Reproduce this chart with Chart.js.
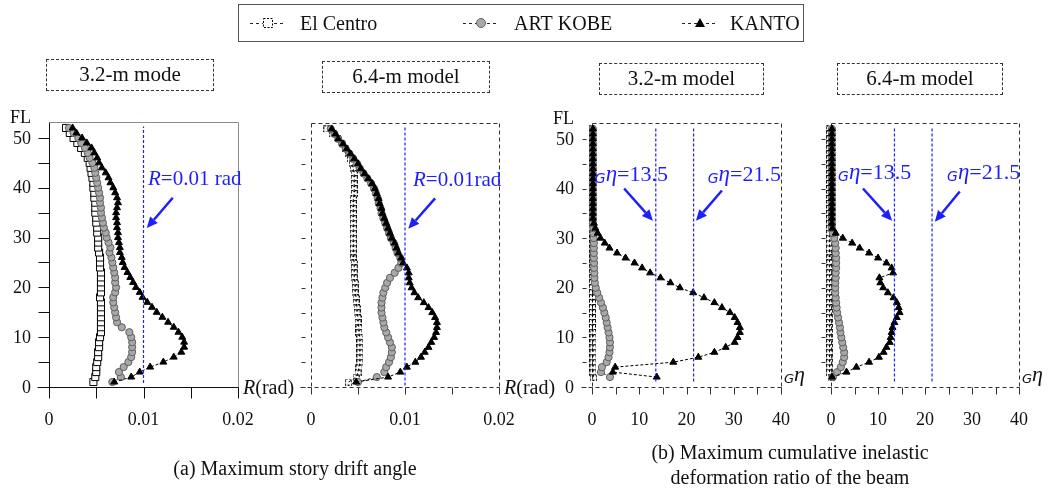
<!DOCTYPE html>
<html>
<head>
<meta charset="utf-8">
<script src="https://cdn.jsdelivr.net/npm/chart.js@4.4.0/dist/chart.umd.min.js"></script>
<style>
  body { margin: 0; background: #fff; }
  #page { position: relative; width: 1050px; height: 491px; overflow: hidden; font-family: "Liberation Serif", "Times New Roman", serif; color: #111; }
  canvas { position: absolute; left: 0; top: 0; }
  .box { position: absolute; border: 1px dashed #333; text-align: center; font-size: 21px; line-height: 29px; }
  .cap { position: absolute; text-align: center; font-size: 20px; line-height: 25px; }
</style>
</head>
<body>
<div id="page">
  <canvas id="p1" width="1050" height="491"></canvas>
  <canvas id="p2" width="1050" height="491"></canvas>
  <canvas id="p3" width="1050" height="491"></canvas>
  <canvas id="p4" width="1050" height="491"></canvas>
  <div class="box" style="left:46px;top:59px;width:166px;height:30px;" id="t1"></div>
  <div class="box" style="left:322px;top:61px;width:166px;height:30px;" id="t2"></div>
  <div class="box" style="left:599px;top:63px;width:163px;height:30px;" id="t3"></div>
  <div class="box" style="left:837px;top:63px;width:164px;height:30px;" id="t4"></div>
  <div class="cap" style="left:115px;top:456px;width:360px;">(a) Maximum story drift angle</div>
  <div class="cap" style="left:600px;top:440px;width:380px;">(b) Maximum cumulative inelastic<br>deformation ratio of the beam</div>
</div>
<script>
// ---- data ----
const seriesNames = ["El Centro", "ART KOBE", "KANTO"];
const panelTitles = ["3.2-m mode", "6.4-m model", "3.2-m model", "6.4-m model"];

const storyFloors = [1, 2, 3, 4, 5, 6, 7, 8, 9, 10, 11, 12, 13, 14, 15, 16, 17, 18, 19, 20, 21, 22, 23, 24, 25, 26,
  27, 28, 29, 30, 31, 32, 33, 34, 35, 36, 37, 38, 39, 40, 41, 42, 43, 44, 45, 46, 47, 48, 49, 50, 51, 52];
const beamFloors = [2, 3, 4, 5, 6, 7, 8, 9, 10, 11, 12, 13, 14, 15, 16, 17, 18, 19, 20, 21, 22, 23, 24, 25, 26,
  27, 28, 29, 30, 31, 32, 33, 34, 35, 36, 37, 38, 39, 40, 41, 42, 43, 44, 45, 46, 47, 48, 49, 50, 51, 52];

// (a) story drift angle R (rad), 3.2-m model
const drift32ElCentro = [0.0047, 0.0049, 0.0050, 0.0050, 0.0051, 0.0052, 0.0052, 0.0053, 0.0053, 0.0054, 0.0055, 0.0055, 0.0055,
  0.0055, 0.0055, 0.0055, 0.0055, 0.0054, 0.0055, 0.0055, 0.0055, 0.0055, 0.0055, 0.0054, 0.0054, 0.0054, 0.0053, 0.0052,
  0.0052, 0.0052, 0.0051, 0.0051, 0.0050, 0.0050, 0.0049, 0.0049, 0.0049, 0.0048, 0.0048, 0.0047, 0.0047, 0.0046, 0.0045,
  0.0044, 0.0043, 0.0041, 0.0038, 0.0034, 0.0030, 0.0026, 0.0022, 0.0018];
const drift32ArtKobe = [0.0067, 0.0076, 0.0074, 0.0079, 0.0084, 0.0087, 0.0088, 0.0088, 0.0088, 0.0087, 0.0085, 0.0077, 0.0072,
  0.0071, 0.0070, 0.0069, 0.0068, 0.0068, 0.0070, 0.0071, 0.0070, 0.0070, 0.0069, 0.0068, 0.0067, 0.0066, 0.0064, 0.0065,
  0.0063, 0.0061, 0.0060, 0.0058, 0.0057, 0.0056, 0.0055, 0.0055, 0.0054, 0.0054, 0.0053, 0.0052, 0.0051, 0.0050, 0.0049,
  0.0048, 0.0046, 0.0043, 0.0041, 0.0038, 0.0034, 0.0031, 0.0026, 0.0021];
const drift32Kanto = [0.0069, 0.0087, 0.0096, 0.0107, 0.0121, 0.0132, 0.0140, 0.0143, 0.0143, 0.0141, 0.0137, 0.0132, 0.0126,
  0.0120, 0.0114, 0.0109, 0.0104, 0.0099, 0.0096, 0.0092, 0.0089, 0.0086, 0.0083, 0.0080, 0.0078, 0.0077, 0.0075, 0.0075,
  0.0074, 0.0073, 0.0073, 0.0072, 0.0072, 0.0071, 0.0071, 0.0072, 0.0073, 0.0072, 0.0070, 0.0068, 0.0065, 0.0063, 0.0060,
  0.0056, 0.0053, 0.0051, 0.0048, 0.0045, 0.0040, 0.0035, 0.0029, 0.0025];

// (a) story drift angle R (rad), 6.4-m model
const drift64ElCentro = [0.0040, 0.0048, 0.0050, 0.0051, 0.0052, 0.0052, 0.0052, 0.0052, 0.0052, 0.0052, 0.0051, 0.0051, 0.0050,
  0.0050, 0.0049, 0.0049, 0.0048, 0.0048, 0.0047, 0.0047, 0.0047, 0.0046, 0.0046, 0.0046, 0.0046, 0.0045, 0.0045, 0.0045,
  0.0045, 0.0045, 0.0045, 0.0045, 0.0045, 0.0045, 0.0045, 0.0045, 0.0045, 0.0045, 0.0046, 0.0046, 0.0046, 0.0046, 0.0046,
  0.0045, 0.0044, 0.0042, 0.0040, 0.0037, 0.0033, 0.0029, 0.0023, 0.0017];
const drift64ArtKobe = [0.0050, 0.0070, 0.0078, 0.0080, 0.0083, 0.0085, 0.0086, 0.0086, 0.0084, 0.0082, 0.0080, 0.0078, 0.0077,
  0.0076, 0.0075, 0.0075, 0.0075, 0.0076, 0.0077, 0.0079, 0.0081, 0.0084, 0.0089, 0.0093, 0.0096, 0.0095, 0.0092, 0.0090,
  0.0088, 0.0085, 0.0083, 0.0081, 0.0079, 0.0077, 0.0075, 0.0074, 0.0072, 0.0071, 0.0069, 0.0067, 0.0064, 0.0060, 0.0056,
  0.0052, 0.0049, 0.0045, 0.0041, 0.0037, 0.0033, 0.0029, 0.0025, 0.0021];
const drift64Kanto = [0.0048, 0.0082, 0.0095, 0.0102, 0.0111, 0.0117, 0.0121, 0.0125, 0.0128, 0.0131, 0.0133, 0.0134, 0.0134,
  0.0132, 0.0129, 0.0125, 0.0120, 0.0114, 0.0110, 0.0107, 0.0105, 0.0104, 0.0104, 0.0102, 0.0098, 0.0096, 0.0093, 0.0091,
  0.0089, 0.0086, 0.0084, 0.0082, 0.0080, 0.0078, 0.0076, 0.0075, 0.0073, 0.0072, 0.0070, 0.0068, 0.0065, 0.0061, 0.0057,
  0.0053, 0.0050, 0.0046, 0.0042, 0.0038, 0.0034, 0.0029, 0.0026, 0.0022];

// (b) cumulative inelastic deformation ratio of the beam, 3.2-m model
const eta32ElCentro = [0.3, 0.2, 0.2, 0.2, 0.2, 0.2, 0.2, 0.2, 0.2, 0.2, 0.1, 0.1, 0.1, 0.1, 0.1, 0.1, 0.1, 0.1, 0.1, 0.1,
  0.1, 0.1, 0.1, 0.1, 0.1, 0.1, 0.1, 0.1, 0.1, 0.1, 0.0, 0.0, 0.0, 0.0, 0.0, 0.0, 0.0, 0.0, 0.0, 0.0, 0.0, 0.0, 0.0, 0.0,
  0.0, 0.0, 0.0, 0.0, 0.0, 0.0, 0.0];
const eta32ArtKobe = [3.8, 1.9, 2.1, 3.1, 3.5, 3.7, 3.8, 3.8, 3.7, 3.5, 3.3, 3.1, 2.9, 2.6, 2.3, 1.9, 1.5, 1.1, 0.8, 0.6,
  0.5, 0.5, 0.45, 0.45, 0.4, 0.4, 0.4, 0.4, 0.35, 0.3, 0.3, 0.2, 0.2, 0.2, 0.2, 0.2, 0.2, 0.2, 0.2, 0.2, 0.2, 0.2, 0.2,
  0.2, 0.2, 0.2, 0.2, 0.2, 0.2, 0.2, 0.2];
const eta32Kanto = [13.7, 4.4, 4.9, 17.2, 22.5, 25.9, 28.3, 30.2, 30.8, 31.3, 31.3, 30.8, 30.2, 29.2, 27.5, 25.9, 23.7, 21.4,
  18.6, 16.6, 14.5, 12.3, 10.6, 9.0, 7.1, 5.3, 3.7, 2.7, 1.8, 1.2, 0.7, 0.4, 0.2, 0.2, 0.2, 0.2, 0.2, 0.2, 0.2, 0.2, 0.2,
  0.2, 0.2, 0.2, 0.2, 0.2, 0.2, 0.2, 0.2, 0.2, 0.2];

// (b) 6.4-m model
const eta64ElCentro = [0.0, -0.3, -0.3, -0.3, -0.3, -0.3, -0.3, -0.3, -0.3, -0.3, -0.3, -0.3, -0.3, -0.3, -0.3, -0.3, -0.3,
  -0.3, -0.3, -0.3, -0.3, -0.3, -0.3, -0.3, -0.3, -0.3, -0.3, -0.3, -0.3, -0.3, -0.3, -0.3, -0.3, -0.3, -0.3, -0.3, -0.3,
  -0.3, -0.3, -0.3, -0.3, -0.3, -0.3, -0.3, -0.3, -0.3, -0.3, -0.3, -0.3, -0.3, -0.3];
const eta64ArtKobe = [0.4, 1.3, 2.1, 2.5, 2.8, 2.8, 2.6, 2.4, 2.2, 2.0, 1.9, 1.7, 1.5, 1.3, 1.2, 1.1, 1.0, 0.9, 0.9, 0.9,
  1.0, 1.0, 1.1, 1.1, 1.1, 1.0, 1.0, 0.9, 0.7, 0.4, 0.2, 0.2, 0.2, 0.2, 0.2, 0.2, 0.2, 0.2, 0.2, 0.2, 0.2, 0.2, 0.2, 0.2,
  0.2, 0.2, 0.2, 0.2, 0.2, 0.2, 0.2];
const eta64Kanto = [0.2, 3.3, 5.4, 8.1, 10.2, 11.2, 11.8, 12.5, 12.7, 12.9, 13.1, 13.5, 14.0, 14.6, 14.4, 14.0, 13.3, 12.1,
  11.1, 10.5, 10.3, 13.2, 12.9, 11.8, 10.0, 8.1, 6.1, 4.5, 2.5, 1.0, 0.3, 0.2, 0.2, 0.2, 0.2, 0.2, 0.2, 0.2, 0.2, 0.2, 0.2,
  0.2, 0.2, 0.2, 0.2, 0.2, 0.2, 0.2, 0.2, 0.2, 0.2];

// reference levels and axes
const driftLimit = [0.01];
const etaLimits = [13.5, 21.5];
const floorTicks = [0, 5, 10, 15, 20, 25, 30, 35, 40, 45, 50];
const floorTickLabels = ["0", "10", "20", "30", "40", "50"];
const driftTicks = [0, 0.005, 0.01, 0.015, 0.02];
const driftTickLabels = ["0", "0.01", "0.02"];
const etaTicks = [0, 5, 10, 15, 20, 25, 30, 35, 40];
const etaTickLabels = ["0", "10", "20", "30", "40"];

// ---- drawing ----
const W = 1050, H = 491, Y_MAX = 53.2;
const BLUE = "#1e1eff";
const SERIF = '"Liberation Serif", "Times New Roman", serif';

panelTitles.forEach((t, i) => document.getElementById("t" + (i + 1)).textContent = t);

function dashedSquare(size) {
  const c = document.createElement("canvas");
  c.width = c.height = size;
  const g = c.getContext("2d");
  g.strokeStyle = "#000";
  g.lineWidth = 1;
  g.setLineDash([2, 1.5]);
  g.strokeRect(0.5, 0.5, size - 1, size - 1);
  return c;
}
const dashedSq = dashedSquare(7);

function seg(ctx, x1, y1, x2, y2) {
  ctx.beginPath(); ctx.moveTo(x1, y1); ctx.lineTo(x2, y2); ctx.stroke();
}

function arrow(ctx, x1, y1, x2, y2) {
  const a = Math.atan2(y2 - y1, x2 - x1), L = 11, hw = 5;
  const bx = x2 - L * Math.cos(a), by = y2 - L * Math.sin(a);
  ctx.save();
  ctx.setLineDash([]);
  ctx.strokeStyle = BLUE; ctx.fillStyle = BLUE; ctx.lineWidth = 2.5;
  seg(ctx, x1, y1, bx, by);
  ctx.beginPath();
  ctx.moveTo(x2, y2);
  ctx.lineTo(bx + hw * Math.sin(a), by - hw * Math.cos(a));
  ctx.lineTo(bx - hw * Math.sin(a), by + hw * Math.cos(a));
  ctx.closePath(); ctx.fill();
  ctx.restore();
}

function rich(ctx, x, y, parts) {
  ctx.textAlign = "left"; ctx.textBaseline = "alphabetic";
  for (const [t, f, dy] of parts) {
    ctx.font = f;
    ctx.fillText(t, x, y + (dy || 0));
    x += ctx.measureText(t).width;
  }
}

const etaParts = (val) => [["G", "italic 14px DejaVu Sans", 2], ["\u03B7", "italic 23px " + SERIF, 0], [val, "22px " + SERIF, 0]];

const decor = {
  id: "decor",
  beforeDatasetsDraw(chart, args, o) {
    const { ctx, chartArea: a, scales: { x, y } } = chart;
    const L = Math.round(a.left) + 0.5, R = Math.round(a.right) + 0.5;
    const T = Math.round(a.top) + 0.5, B = Math.round(a.bottom) + 0.5;
    ctx.save();
    ctx.lineWidth = 1;
    if (o.solid) {
      ctx.strokeStyle = "#8c8c8c";
      seg(ctx, L, T, R, T); seg(ctx, R, T, R, B);
      ctx.strokeStyle = "#111";
      seg(ctx, L, T, L, B); seg(ctx, L - 12, B, R, B);
      floorTicks.forEach(v => { const py = Math.round(y.getPixelForValue(v)) + 0.5; seg(ctx, L - 11, py, L, py); });
      o.xTicks.forEach(v => { const px = Math.round(x.getPixelForValue(v)) + 0.5; seg(ctx, px, B, px, B + 11); });
    } else {
      ctx.strokeStyle = "#333";
      ctx.setLineDash([4, 3]);
      seg(ctx, L, T, R, T); seg(ctx, R, T, R, B + 8);
      seg(ctx, L, T, L, B + 9); seg(ctx, L - 11, B, R, B);
      ctx.setLineDash([]);
      floorTicks.forEach(v => { const py = Math.round(y.getPixelForValue(v)) + 0.5; seg(ctx, L - 10, py, L - 6, py); });
      o.xTicks.forEach(v => { const px = Math.round(x.getPixelForValue(v)) + 0.5; seg(ctx, px, B, px, B + 7); });
    }
    ctx.restore();
  },
  afterDatasetsDraw(chart, args, o) {
    const { ctx, chartArea: a, scales: { x, y } } = chart;
    ctx.save();
    ctx.fillStyle = "#111";
    ctx.font = "18px " + SERIF;
    if (o.yLabels) {
      ctx.textAlign = "right"; ctx.textBaseline = "middle";
      floorTickLabels.forEach(t => ctx.fillText(t, a.left - 18, y.getPixelForValue(+t) + 1));
      ctx.textAlign = "left"; ctx.textBaseline = "alphabetic";
      ctx.fillText("FL", a.left - 39, a.top + 1);
    }
    ctx.textAlign = "center"; ctx.textBaseline = "middle";
    o.xLabels.forEach(t => ctx.fillText(t, x.getPixelForValue(+t), a.bottom + 33));
    // axis name at the right end of the x axis
    if (o.kind === "drift") {
      rich(ctx, a.right + 5, a.bottom + 7, [["R", "italic 20px " + SERIF], ["(rad)", "20px " + SERIF]]);
    } else {
      rich(ctx, a.right + 3, a.bottom - 6, [["G", "italic 13px DejaVu Sans", 2], ["\u03B7", "italic 22px " + SERIF, 0]]);
    }
    // annotations in data coordinates
    ctx.fillStyle = BLUE;
    o.notes.forEach(n => {
      rich(ctx, x.getPixelForValue(n.at[0]), y.getPixelForValue(n.at[1]), n.parts);
      arrow(ctx, x.getPixelForValue(n.from[0]), y.getPixelForValue(n.from[1]),
        x.getPixelForValue(n.to[0]), y.getPixelForValue(n.to[1]));
    });
    if (o.legend) drawLegend(ctx);
    ctx.restore();
  }
};

function drawLegend(ctx) {
  ctx.save();
  ctx.strokeStyle = "#555"; ctx.lineWidth = 1;
  ctx.strokeRect(238.5, 4.5, 565, 37);
  const cx = [268, 481, 700], tx = [300, 514, 730], cy = 23;
  seriesNames.forEach((name, i) => {
    ctx.strokeStyle = "#222"; ctx.setLineDash([3, 3]);
    seg(ctx, cx[i] - 18, cy + 0.5, cx[i] + 18, cy + 0.5);
    ctx.setLineDash([]);
    if (i === 0) {
      ctx.fillStyle = "#fff"; ctx.fillRect(cx[i] - 5, cy - 5, 10, 10);
      ctx.drawImage(dashedSquare(10), cx[i] - 5, cy - 5);
    } else if (i === 1) {
      ctx.beginPath(); ctx.arc(cx[i], cy, 4.5, 0, Math.PI * 2);
      ctx.fillStyle = "#a8a8a8"; ctx.fill(); ctx.strokeStyle = "#666"; ctx.stroke();
    } else {
      ctx.beginPath(); ctx.moveTo(cx[i], cy - 5); ctx.lineTo(cx[i] + 5, cy + 4); ctx.lineTo(cx[i] - 5, cy + 4);
      ctx.closePath(); ctx.fillStyle = "#000"; ctx.fill();
    }
    ctx.fillStyle = "#111"; ctx.font = "20px " + SERIF;
    ctx.textAlign = "left"; ctx.textBaseline = "alphabetic";
    ctx.fillText(name, tx[i], cy + 7);
  });
  ctx.restore();
}

const pts = (floors, vals) => vals.map((v, i) => ({ x: v, y: floors[i] }));
const lineBase = { showLine: true, borderColor: "#000", borderWidth: 1, borderDash: [3, 2], clip: false, pointBorderWidth: 1 };

function recordSets(floors, el, art, kanto, solidSquares) {
  return [
    Object.assign({}, lineBase, { label: seriesNames[0], order: 3, data: pts(floors, el),
      pointStyle: solidSquares ? "rect" : dashedSq, pointRadius: solidSquares ? 5 : 3.5,
      pointBackgroundColor: "#fff", pointBorderColor: "#000" }),
    Object.assign({}, lineBase, { label: seriesNames[1], order: 2, data: pts(floors, art),
      pointStyle: "circle", pointRadius: 3.6, pointBackgroundColor: "#a8a8a8", pointBorderColor: "#5e5e5e" }),
    Object.assign({}, lineBase, { label: seriesNames[2], order: 1, data: pts(floors, kanto),
      pointStyle: "triangle", pointRadius: 4, pointBackgroundColor: "#000", pointBorderColor: "#000" })
  ];
}

function limitSets(levels, span) {
  return levels.map(v => ({ label: "limit " + v, order: 0, showLine: true, clip: false,
    data: [{ x: v, y: span[0] }, { x: v, y: span[1] }],
    borderColor: BLUE, borderWidth: 1.2, borderDash: [3, 2], pointRadius: 0 }));
}

function panel(id, area, xMax, datasets, opts) {
  return new Chart(document.getElementById(id), {
    type: "scatter",
    data: { datasets },
    options: {
      responsive: false, animation: false, events: [],
      layout: { padding: { left: area[0], right: W - area[1], top: area[2], bottom: H - area[3] } },
      scales: {
        x: { type: "linear", min: 0, max: xMax, display: false },
        y: { type: "linear", min: 0, max: Y_MAX, display: false }
      },
      plugins: { legend: { display: false }, tooltip: { enabled: false }, decor: opts }
    },
    plugins: [decor]
  });
}

panel("p1", [49, 238, 122, 387], 0.02,
  recordSets(storyFloors, drift32ElCentro, drift32ArtKobe, drift32Kanto, true).concat(limitSets(driftLimit, [0.8, 52.3])),
  { solid: true, kind: "drift", yLabels: true, legend: true, xTicks: driftTicks, xLabels: driftTickLabels,
    notes: [{ at: [0.01048, 40.6], parts: [["R", "italic 21px " + SERIF], ["=0.01 rad", "21px " + SERIF]],
      from: [0.0131, 38.0], to: [0.01035, 31.9] }] });

panel("p2", [311, 499, 123, 387], 0.02,
  recordSets(storyFloors, drift64ElCentro, drift64ArtKobe, drift64Kanto, false).concat(limitSets(driftLimit, [0.3, 52.5])),
  { solid: false, kind: "drift", yLabels: false, xTicks: driftTicks, xLabels: driftTickLabels,
    notes: [{ at: [0.01085, 40.6], parts: [["R", "italic 21px " + SERIF], ["=0.01rad", "21px " + SERIF]],
      from: [0.0132, 38.0], to: [0.01035, 31.9] }] });

panel("p3", [592, 781, 123, 387], 40,
  recordSets(beamFloors, eta32ElCentro, eta32ArtKobe, eta32Kanto, false).concat(limitSets(etaLimits, [1.1, 52.3])),
  { solid: false, kind: "eta", yLabels: true, xTicks: etaTicks, xLabels: etaTickLabels,
    notes: [{ at: [0.6, 41.6], parts: etaParts("=13.5"), from: [6.8, 40.0], to: [12.9, 33.5] },
            { at: [24.5, 41.6], parts: etaParts("=21.5"), from: [27.5, 39.6], to: [22.0, 33.5] }] });

panel("p4", [831, 1019, 123, 387], 40,
  recordSets(beamFloors, eta64ElCentro, eta64ArtKobe, eta64Kanto, false).concat(limitSets(etaLimits, [1.1, 52.3])),
  { solid: false, kind: "eta", yLabels: false, xTicks: etaTicks, xLabels: etaTickLabels,
    notes: [{ at: [1.5, 42.0], parts: etaParts("=13.5"), from: [6.8, 40.0], to: [13.0, 33.5] },
            { at: [24.7, 42.0], parts: etaParts("=21.5"), from: [27.4, 39.4], to: [22.1, 33.3] }] });
</script>
</body>
</html>
